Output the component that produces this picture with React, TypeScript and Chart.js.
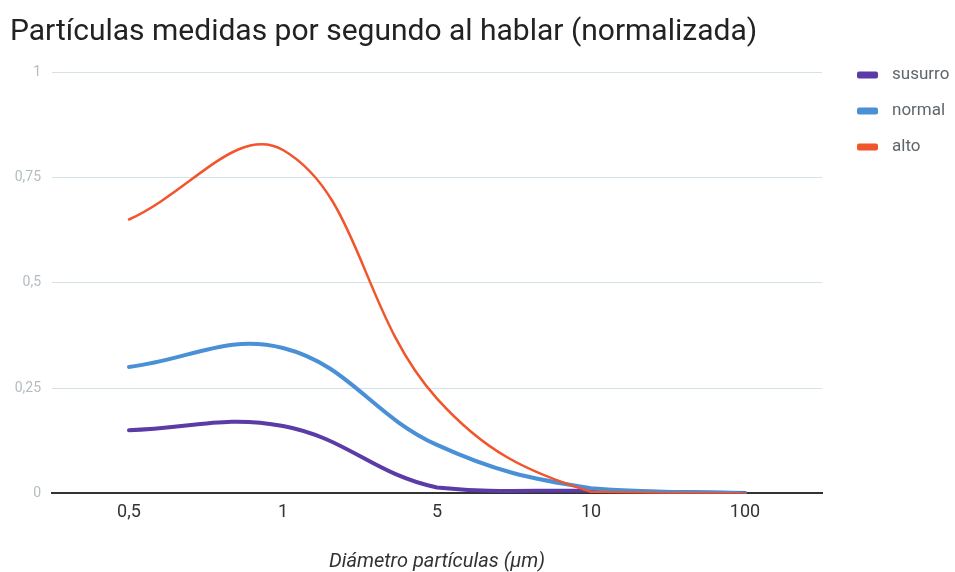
import React, { useEffect, useRef } from "react";
import { Chart, registerables } from "chart.js";

Chart.register(...registerables);

const TITLE = "Partículas medidas por segundo al hablar (normalizada)";
const X_TITLE = "Diámetro partículas (μm)";
const categories = ["0,5", "1", "5", "10", "100"];
const susurro = [0.15, 0.16, 0.014, 0.006, 0.001];
const normal = [0.3, 0.345, 0.115, 0.012, 0.0];
const alto = [0.65, 0.815, 0.225, 0.004, 0.0];
const yTicks = [0, 0.25, 0.5, 0.75, 1];
const yTickLabels = ["0", "0,25", "0,5", "0,75", "1"];

const COLORS = { susurro: "#5b3ba6", normal: "#4a90d6", alto: "#f2552b" };

const legendPlugin = {
  id: "customLegend",
  afterDraw(chart: any) {
    const ctx = chart.ctx;
    ctx.save();
    chart.data.datasets.forEach((ds: any, i: number) => {
      const cy = 75 + i * 36;
      ctx.fillStyle = ds.borderColor;
      ctx.beginPath();
      (ctx as any).roundRect(857, cy - 3.5, 21, 7, 2);
      ctx.fill();
      ctx.fillStyle = "#5f666b";
      ctx.font = "17px Roboto";
      ctx.textBaseline = "middle";
      ctx.textAlign = "left";
      ctx.fillText(ds.label, 892, cy);
    });
    ctx.restore();
  },
};

export default function App() {
  const ref = useRef<HTMLCanvasElement>(null);
  useEffect(() => {
    if (!ref.current) return;
    const chart = new Chart(ref.current, {
      type: "line",
      data: {
        labels: categories,
        datasets: [
          { label: "susurro", data: susurro, borderColor: COLORS.susurro, backgroundColor: COLORS.susurro, borderWidth: 4, order: 2 },
          { label: "normal", data: normal, borderColor: COLORS.normal, backgroundColor: COLORS.normal, borderWidth: 4, order: 1 },
          { label: "alto", data: alto, borderColor: COLORS.alto, backgroundColor: COLORS.alto, borderWidth: 2.5, order: 0 },
        ],
      },
      options: {
        animation: false,
        responsive: false,
        maintainAspectRatio: false,
        elements: {
          point: { radius: 0, hoverRadius: 0 },
          line: { tension: 0.4, cubicInterpolationMode: "default", borderCapStyle: "round" },
        },
        layout: { padding: { left: 10, right: 133, top: 0, bottom: 0 } },
        plugins: {
          legend: { display: false },
          tooltip: { enabled: false },
          title: {
            display: true,
            text: TITLE,
            align: "start",
            color: "#222222",
            font: { family: "Roboto", size: 30, weight: "normal", lineHeight: 1.2 },
            padding: { top: 14, bottom: 22 },
          },
        },
        scales: {
          x: {
            type: "category",
            offset: true,
            grid: { display: false, drawTicks: false },
            border: { display: true, color: "#333333", width: 2 },
            ticks: { color: "#333333", font: { family: "Roboto", size: 18, lineHeight: 1.2 }, padding: 8 },
            title: {
              display: true,
              text: X_TITLE,
              color: "#333333",
              font: { family: "Roboto", size: 20, style: "italic", lineHeight: 1.0 },
              padding: { top: 21, bottom: 0 },
            },
          },
          y: {
            min: 0,
            max: 1,
            afterFit(scale: any) {
              scale.width = 42;
            },
            afterBuildTicks(scale: any) {
              scale.ticks = yTicks.map((v) => ({ value: v }));
            },
            grid: { color: "#d3e1e9", lineWidth: 1, drawTicks: false },
            border: { display: false },
            ticks: {
              color: "#b4bcc0",
              font: { family: "Roboto", size: 14 },
              padding: 11,
              callback: (v: any) => {
                const idx = yTicks.indexOf(Number(v));
                return idx >= 0 ? yTickLabels[idx] : "";
              },
            },
          },
        },
      },
      plugins: [legendPlugin],
    } as any);
    return () => chart.destroy();
  }, []);
  return (
    <div style={{ position: "fixed", left: 0, top: 0, width: 955, height: 572, background: "#fff" }}>
      <canvas ref={ref} width={955} height={572} style={{ width: 955, height: 572, display: "block" }} />
    </div>
  );
}
